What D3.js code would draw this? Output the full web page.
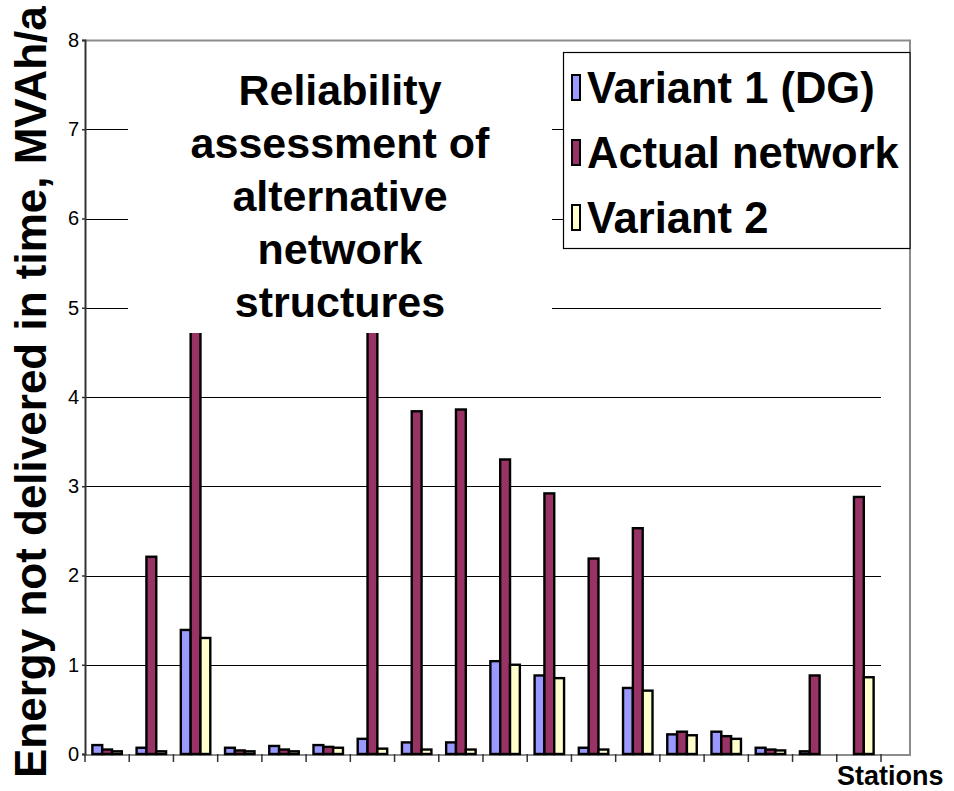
<!DOCTYPE html>
<html>
<head>
<meta charset="utf-8">
<script src="https://cdn.jsdelivr.net/npm/d3@7"></script>
<style>
  html, body { margin: 0; padding: 0; background: #fff; }
  svg { display: block; font-family: "Liberation Sans", Arial, sans-serif; }
</style>
</head>
<body>
<svg id="chart" width="954" height="791"></svg>
<script>
// ---- data ----
const stations = ["1","2","3","4","5","6","7","8","9","10","11","12","13","14","15","16","17","18"];
const seriesNames = ["Variant 1 (DG)", "Actual network", "Variant 2"];
const variant1 = [0.10, 0.07, 1.39, 0.07, 0.09, 0.10, 0.17, 0.13, 0.13, 1.04, 0.88, 0.07, 0.74, 0.22, 0.25, 0.07, 0.03, 0.00];
// stations 3 and 7 are hidden behind the title box above ~4.7 (values estimated)
const actualNetwork = [0.05, 2.21, 5.20, 0.04, 0.05, 0.08, 5.20, 3.84, 3.86, 3.30, 2.92, 2.19, 2.53, 0.25, 0.20, 0.05, 0.88, 2.88];
const variant2 = [0.03, 0.03, 1.30, 0.03, 0.03, 0.07, 0.06, 0.05, 0.05, 1.00, 0.85, 0.05, 0.71, 0.21, 0.17, 0.04, 0.00, 0.86];
const yTicks = [0, 1, 2, 3, 4, 5, 6, 7, 8];
const titleLines = ["Reliability", "assessment of", "alternative", "network", "structures"];
const yAxisTitle = "Energy not delivered in time, MVAh/a";
const xAxisTitle = "Stations";
const colors = ["#9999FF", "#993366", "#FFFFCC"];

const seriesValues = [variant1, actualNetwork, variant2];

const svg = d3.select("#chart");

const plot = { left: 85, right: 881, top: 40, bottom: 754 };
const frameRight = 910;

const x = d3.scaleBand().domain(stations).range([plot.left, plot.right]).paddingInner(0).paddingOuter(0);
const y = d3.scaleLinear().domain([0, 8]).range([plot.bottom, plot.top]);

// Excel-like layout: gap width 150% of one bar
const bw = x.bandwidth() / (seriesNames.length + 1.5);
const inner = d3.scaleBand().domain(d3.range(seriesNames.length))
  .range([bw * 0.75, bw * 0.75 + bw * seriesNames.length]);

// gridlines
svg.append("g")
  .selectAll("line").data(yTicks.filter(d => d > 0)).join("line")
  .attr("x1", plot.left).attr("x2", plot.right)
  .attr("y1", d => Math.round(y(d)) + 0.5).attr("y2", d => Math.round(y(d)) + 0.5)
  .attr("stroke", "#000").attr("stroke-width", 1.2);

// outer gray frame (top, right, bottom)
svg.append("path")
  .attr("d", `M${plot.left},${plot.top + 0.5} H${frameRight} V${plot.bottom + 1} H${plot.left}`)
  .attr("fill", "none").attr("stroke", "#8c8c8c").attr("stroke-width", 2);

// bars
const groups = svg.append("g").selectAll("g").data(stations).join("g")
  .attr("transform", d => `translate(${x(d)},0)`);
groups.selectAll("rect")
  .data((d, i) => seriesValues.map((s, k) => ({ k, v: s[i] })))
  .join("rect")
  .attr("x", d => inner(d.k))
  .attr("width", inner.bandwidth())
  .attr("y", d => y(d.v))
  .attr("height", d => y(0) - y(d.v))
  .attr("fill", d => colors[d.k])
  .attr("stroke", "#000").attr("stroke-width", 2.4);

// left axis
const yAxis = d3.axisLeft(y).tickValues(yTicks).tickSize(3).tickPadding(3).tickFormat(d3.format("d"));
const gy = svg.append("g").attr("transform", `translate(${plot.left},0)`).call(yAxis);
gy.select(".domain").attr("stroke", "#333").attr("stroke-width", 2);
gy.selectAll(".tick line").attr("stroke", "#333").attr("stroke-width", 1.5);
gy.selectAll(".tick text").attr("font-size", 20).attr("fill", "#000")
  .attr("font-family", "'Liberation Sans', Arial, sans-serif");

// bottom category ticks
svg.append("g").selectAll("line")
  .data(d3.range(stations.length + 1))
  .join("line")
  .attr("x1", i => plot.left + i * x.step()).attr("x2", i => plot.left + i * x.step())
  .attr("y1", plot.bottom).attr("y2", plot.bottom + 8)
  .attr("stroke", "#333").attr("stroke-width", 1.5);

// title box (white, covers part of bars & gridlines)
svg.append("rect").attr("x", 128).attr("y", 44).attr("width", 424).attr("height", 289).attr("fill", "#fff");
svg.append("text")
  .attr("text-anchor", "middle").attr("font-weight", "bold").attr("font-size", 43).attr("fill", "#000")
  .selectAll("tspan").data(titleLines).join("tspan")
  .attr("x", 340).attr("y", (d, i) => 105 + i * 53).text(d => d);

// legend
const lg = svg.append("g");
lg.append("rect").attr("x", 563.5).attr("y", 52.5).attr("width", frameRight - 563.5).attr("height", 196)
  .attr("fill", "#fff").attr("stroke", "#000").attr("stroke-width", 1.2);
const rowsY = [103, 168, 233];
const items = lg.selectAll("g.item").data(seriesNames).join("g").attr("class", "item");
items.append("rect")
  .attr("x", 572).attr("y", (d, i) => rowsY[i] - 28).attr("width", 8).attr("height", 25)
  .attr("fill", (d, i) => colors[i]).attr("stroke", "#000").attr("stroke-width", 2);
items.append("text")
  .attr("x", 587).attr("y", (d, i) => rowsY[i])
  .attr("font-size", 43.5).attr("font-weight", "bold").attr("fill", "#000")
  .text(d => d);

// axis titles
svg.append("text")
  .attr("transform", "translate(46,778) rotate(-90)")
  .attr("text-anchor", "start").attr("font-size", 44).attr("font-weight", "bold").attr("fill", "#000")
  .text(yAxisTitle);
svg.append("text")
  .attr("x", 837).attr("y", 785)
  .attr("font-size", 27).attr("font-weight", "bold").attr("fill", "#000")
  .text(xAxisTitle);
</script>
</body>
</html>
